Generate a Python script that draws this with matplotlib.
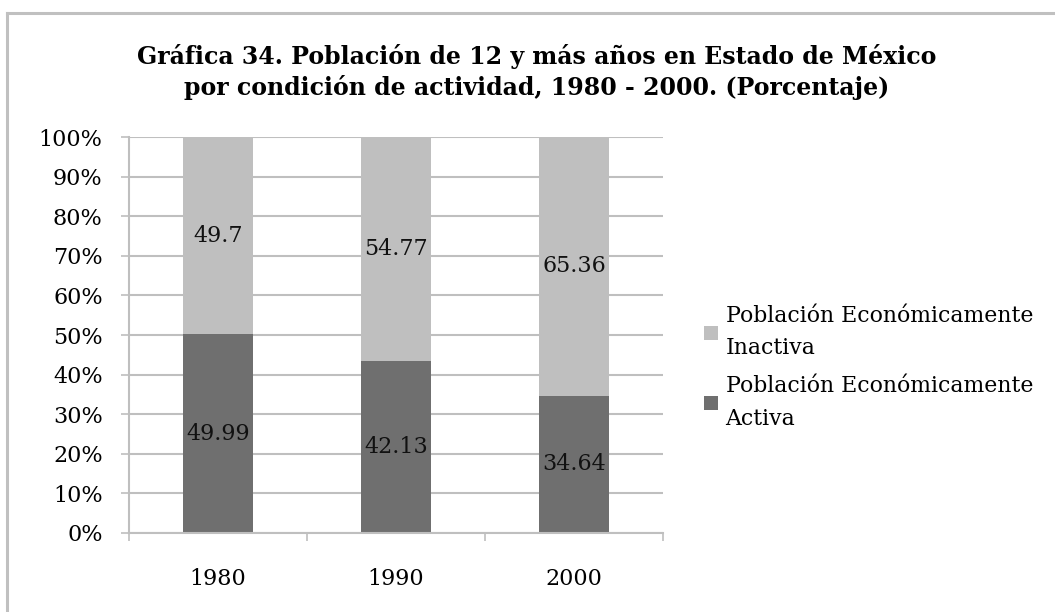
import matplotlib.pyplot as plt
from matplotlib.lines import Line2D
import numpy as np

# Población de 12 y más años, Estado de México (porcentajes)
years = ['1980', '1990', '2000']
activa = [49.99, 42.13, 34.64]
inactiva = [49.7, 54.77, 65.36]
series_names = ['Población Económicamente\nActiva', 'Población Económicamente\nInactiva']

color_activa = '#6f6f6f'
color_inactiva = '#bfbfbf'
grid_color = '#bfbfbf'

plt.rcParams['font.family'] = 'DejaVu Serif'

fig = plt.figure(figsize=(10.55, 6.12), dpi=100)
ax = fig.add_axes([0.1223, 0.1291, 0.5061, 0.647])

# stacked to 100% like the original spreadsheet chart
act = np.array(activa)
inact = np.array(inactiva)
total = act + inact
act_pct = act / total * 100
inact_pct = inact / total * 100

x = np.arange(len(years))
w = 0.393
bars_a = ax.bar(x, act_pct, w, color=color_activa, zorder=2, label=series_names[0])
bars_i = ax.bar(x, inact_pct, w, bottom=act_pct, color=color_inactiva, zorder=2, label=series_names[1])

for i in range(len(years)):
    ax.text(x[i], act_pct[i] / 2, '%g' % activa[i], ha='center', va='center', fontsize=16, color='#111111', zorder=3)
    ax.text(x[i], act_pct[i] + inact_pct[i] / 2, '%g' % inactiva[i], ha='center', va='center', fontsize=16, color='#111111', zorder=3)

ax.set_xlim(-0.5, len(years) - 0.5)
ax.set_ylim(0, 100)
ax.set_yticks(np.arange(0, 101, 10))
ax.set_yticklabels(['%d%%' % v for v in range(0, 101, 10)])
ax.yaxis.grid(True, color=grid_color, linewidth=1.5, zorder=0)

# years under the bars, tick marks between categories
ax.set_xticks(x)
ax.set_xticklabels(years)
ax.set_xticks(np.arange(-0.5, len(years), 1), minor=True)
ax.tick_params(axis='x', which='major', length=0, pad=25, labelsize=16)
ax.tick_params(axis='x', which='minor', length=6, width=1.2, color=grid_color, direction='out')
ax.tick_params(axis='y', length=6, width=1.2, color=grid_color, pad=13, labelsize=16)

for s in ['top', 'right']:
    ax.spines[s].set_visible(False)
for s in ['left', 'bottom']:
    ax.spines[s].set_color(grid_color)
    ax.spines[s].set_linewidth(1.5)

fig.suptitle('Gráfica 34. Población de 12 y más años en Estado de México\n'
             'por condición de actividad, 1980 - 2000. (Porcentaje)',
             x=0.509, y=0.928, fontsize=17, fontweight='bold', linespacing=1.3)

handles = [bars_i, bars_a]
labels = [series_names[1], series_names[0]]
leg = fig.legend(handles, labels, loc='center left', bbox_to_anchor=(0.649, 0.40),
                 frameon=False, fontsize=15.8, handlelength=0.6, handleheight=0.6,
                 handletextpad=0.36, labelspacing=0.75)
for t in leg.get_texts():
    t.set_linespacing(1.6)

# chart frame
fig.add_artist(Line2D([0.0062, 0.0062], [0.0, 0.979], color='#c0c0c0', linewidth=2.2))
fig.add_artist(Line2D([0.0062, 1.0], [0.979, 0.979], color='#c0c0c0', linewidth=2.2))

fig.savefig('out.png', dpi=100)
